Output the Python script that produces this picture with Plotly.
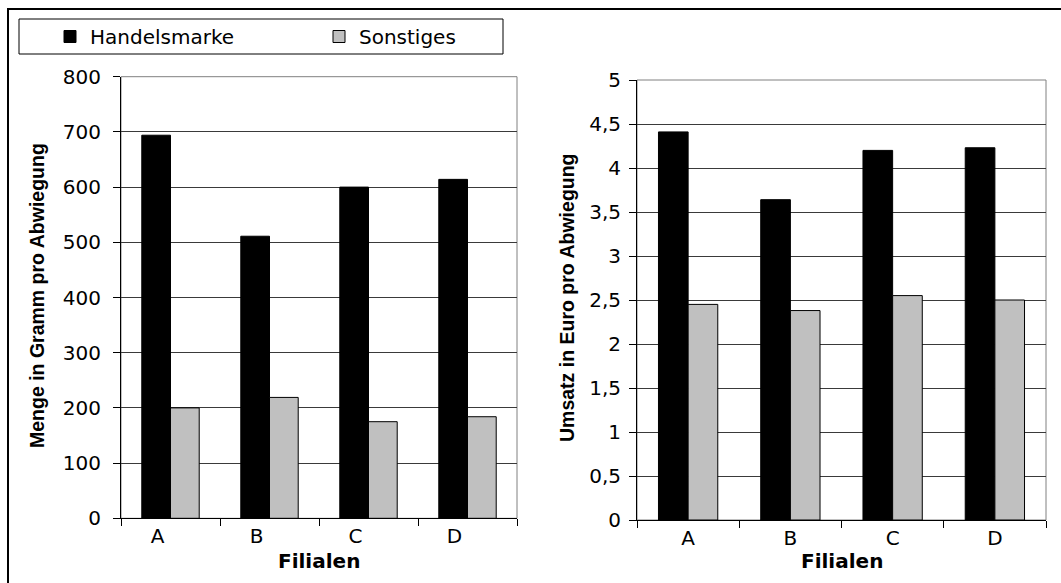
import plotly.graph_objects as go

W, H = 1061, 583

filialen = ["A", "B", "C", "D"]
series_names = ["Handelsmarke", "Sonstiges"]
menge_handelsmarke = [694, 511, 600, 614]
menge_sonstiges = [200, 219, 175, 184]
umsatz_handelsmarke = [4.41, 3.64, 4.20, 4.23]
umsatz_sonstiges = [2.45, 2.38, 2.55, 2.50]
x_title = "Filialen"
y_title_left = "Menge in Gramm pro Abwiegung"
y_title_right = "Umsatz in Euro pro Abwiegung"

colors = ["#000000", "#c0c0c0"]

def px_x(v):
    return v / W

def px_y(v):
    return (H - v) / H

fig = go.Figure()

for i, (name, vals) in enumerate(zip(series_names, [menge_handelsmarke, menge_sonstiges])):
    fig.add_trace(go.Bar(
        x=filialen, y=vals, name=name, xaxis="x", yaxis="y",
        marker=dict(color=colors[i], line=dict(color="#000000", width=1)),
        showlegend=True,
    ))
for i, (name, vals) in enumerate(zip(series_names, [umsatz_handelsmarke, umsatz_sonstiges])):
    fig.add_trace(go.Bar(
        x=filialen, y=vals, name=name, xaxis="x2", yaxis="y2",
        marker=dict(color=colors[i], line=dict(color="#000000", width=1)),
        showlegend=False,
    ))

tick_font = dict(family="DejaVu Sans", size=20, color="#000000")
xtitle_font = dict(family="DejaVu Sans", size=20, color="#000000", weight="bold")
ytitle_font = dict(family="Liberation Sans", size=19.5, color="#000000", weight="bold")

common_x = dict(
    type="category", tickson="boundaries", ticks="outside", ticklen=7,
    tickcolor="#000000", showline=True, linecolor="#000000", linewidth=1,
    showgrid=False, tickfont=tick_font, zeroline=False, fixedrange=True,
    automargin=False,
)
common_y = dict(
    ticks="outside", ticklen=7, tickcolor="#000000", showline=True,
    linecolor="#000000", linewidth=1, showgrid=True, gridcolor="#3a3a3a",
    gridwidth=1, zeroline=False, tickfont=tick_font, fixedrange=True,
    automargin=False,
)

fig.update_layout(
    width=W, height=H, autosize=False,
    margin=dict(l=0, r=0, t=0, b=0, autoexpand=False),
    paper_bgcolor="#ffffff", plot_bgcolor="#ffffff",
    separators=",.",
    barmode="group", bargap=0.42, bargroupgap=0.0,
    font=dict(family="DejaVu Sans", color="#000000"),
    xaxis=dict(common_x, domain=[px_x(121), px_x(517)], anchor="y",
               ticklabelshift=-13),
    yaxis=dict(common_y, domain=[px_y(518.3), px_y(76.7)], anchor="x",
               range=[0, 800], dtick=100, ticklabelstandoff=8),
    xaxis2=dict(common_x, domain=[px_x(637), px_x(1046)], anchor="y2"),
    yaxis2=dict(common_y, domain=[px_y(520), px_y(80)], anchor="x2",
                range=[0, 5], dtick=0.5, ticklabelstandoff=4),
    legend=dict(
        orientation="h", x=px_x(50), y=px_y(36.5), xanchor="left", yanchor="middle",
        bgcolor="rgba(0,0,0,0)", borderwidth=0,
        font=dict(family="DejaVu Sans", size=20, color="#000000"),
        entrywidth=224, entrywidthmode="pixels", itemclick=False, itemdoubleclick=False,
    ),
    annotations=[
        dict(text=x_title, xref="x domain", yref="paper", x=0.5, y=px_y(561),
             xanchor="center", yanchor="middle", showarrow=False, font=xtitle_font),
        dict(text=x_title, xref="x2 domain", yref="paper", x=0.5, y=px_y(561),
             xanchor="center", yanchor="middle", showarrow=False, font=xtitle_font),
        dict(text=y_title_left, xref="paper", yref="paper", x=px_x(37), y=px_y(296),
             xanchor="center", yanchor="middle", textangle=-90, showarrow=False,
             font=ytitle_font),
        dict(text=y_title_right, xref="paper", yref="paper", x=px_x(567), y=px_y(298),
             xanchor="center", yanchor="middle", textangle=-90, showarrow=False,
             font=ytitle_font),
    ],
    shapes=[
        # outer frame
        dict(type="rect", xref="paper", yref="paper", x0=px_x(8), x1=1.02,
             y0=-0.02, y1=px_y(9), line=dict(color="#000000", width=2), layer="below"),
        # legend box
        dict(type="rect", xref="paper", yref="paper", x0=px_x(19), x1=px_x(503),
             y0=px_y(54), y1=px_y(19), line=dict(color="#000000", width=1), layer="below"),
        # plot area borders
        dict(type="rect", xref="x domain", yref="y domain", x0=0, x1=1, y0=0, y1=1,
             line=dict(color="#808080", width=1), layer="below"),
        dict(type="rect", xref="x2 domain", yref="y2 domain", x0=0, x1=1, y0=0, y1=1,
             line=dict(color="#808080", width=1), layer="below"),
    ],
)

fig.write_html("out.html")
